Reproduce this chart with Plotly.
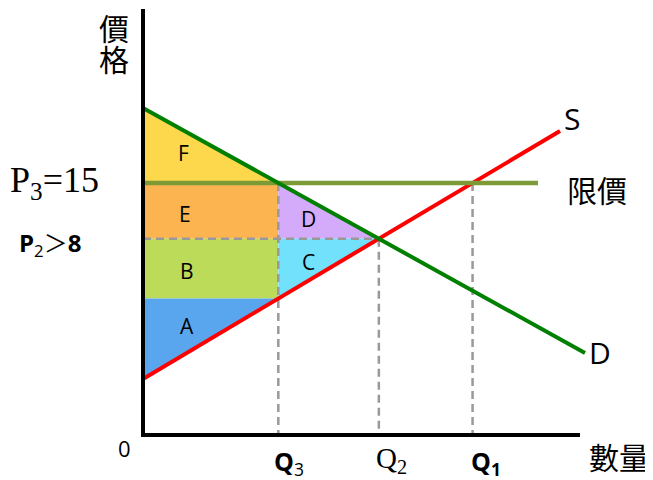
import plotly.graph_objects as go

# demand / supply lines (quantity, price)
demand_q = [0.0, 44.2]
demand_p = [32.7, 8.2]
supply_q = [0.0, 41.7]
supply_p = [5.6, 30.4]

# price control line (限價)
ceiling_p = 25.2
ceiling_q = [0.0, 39.5]

axis_x_end = 43.7
axis_y_end = 42.6

region_labels = ["F", "E", "D", "B", "C", "A"]
region_colors = ["#FDD84C", "#FBB450", "#D4AAFA", "#BBDB59", "#72E1FB", "#5AA6EE"]


def line_at(qs, ps, q):
    slope = (ps[1] - ps[0]) / (qs[1] - qs[0])
    return ps[0] + slope * (q - qs[0])


def q_at(qs, ps, p):
    slope = (ps[1] - ps[0]) / (qs[1] - qs[0])
    return qs[0] + (p - ps[0]) / slope


# key points from the curves
d_slope = (demand_p[1] - demand_p[0]) / (demand_q[1] - demand_q[0])
s_slope = (supply_p[1] - supply_p[0]) / (supply_q[1] - supply_q[0])
q2 = (supply_p[0] - demand_p[0]) / (d_slope - s_slope)
p2 = line_at(supply_q, supply_p, q2)
q3 = q_at(demand_q, demand_p, ceiling_p)
q1 = q_at(supply_q, supply_p, ceiling_p)
s_q3 = line_at(supply_q, supply_p, q3)

polys = {
    "F": ([0, 0, q3], [demand_p[0], ceiling_p, ceiling_p]),
    "E": ([0, q3, q3, 0], [p2, p2, ceiling_p, ceiling_p]),
    "D": ([q3, q3, q2], [ceiling_p, p2, p2]),
    "B": ([0, q3, q3, 0], [s_q3, s_q3, p2, p2]),
    "C": ([q3, q3, q2], [p2, s_q3, p2]),
    "A": ([0, 0, q3], [supply_p[0], s_q3, s_q3]),
}

fig = go.Figure()

for name, color in zip(region_labels, region_colors):
    xs, ys = polys[name]
    fig.add_trace(go.Scatter(x=xs, y=ys, fill="toself", fillcolor=color,
                             mode="lines", line=dict(width=0), hoverinfo="skip"))

dash = dict(color="#999999", width=2.5, dash="8px,5px")
fig.add_trace(go.Scatter(x=[0, q2], y=[p2, p2], mode="lines", line=dash))
fig.add_trace(go.Scatter(x=[q2, q2], y=[p2, 0], mode="lines", line=dash))
fig.add_trace(go.Scatter(x=[q3, q3], y=[ceiling_p, 0], mode="lines", line=dash))
fig.add_trace(go.Scatter(x=[q1, q1], y=[ceiling_p, 0], mode="lines", line=dash))

fig.add_trace(go.Scatter(x=supply_q, y=supply_p, mode="lines",
                         line=dict(color="#FF0000", width=4)))
fig.add_trace(go.Scatter(x=ceiling_q, y=[ceiling_p, ceiling_p], mode="lines",
                         line=dict(color="#7D9A36", width=4.5)))
fig.add_trace(go.Scatter(x=demand_q, y=demand_p, mode="lines",
                         line=dict(color="#008000", width=4)))

# axes
fig.add_trace(go.Scatter(x=[0, 0, axis_x_end], y=[axis_y_end, 0, 0], mode="lines",
                         line=dict(color="black", width=4)))

sans = "Open Sans"
cjk = "Noto Sans CJK TC"
serif = "Liberation Serif"

# plot area on screen (page has an 8px body margin)
PL, PR, PT, PB = 133, 653, 8, 445


def label(px, py, text, size, family):
    fig.add_annotation(x=(px - PL) / (PR - PL), y=(PB - py) / (PB - PT),
                       xref="paper", yref="paper", xanchor="center", yanchor="middle",
                       text=text, showarrow=False,
                       font=dict(size=size, family=family, color="black"))


for name, (px, py) in zip(region_labels, [(183, 153), (185, 214), (308, 219),
                                          (187, 271), (308, 262), (187, 326)]):
    label(px, py, name, 21, sans)

label(114, 27, "價", 30, cjk)
label(114, 58, "格", 30, cjk)
label(54, 182, "P<sub>3</sub>=15", 36, serif)
label(50, 243, "<b>P</b><sub>2</sub><span style='font-family:Noto Sans CJK TC'>＞</span><b>8</b>",
      24, sans)
label(572, 119, "S", 30, sans)
label(600, 352, "D", 30, sans)
label(597, 189, "限價", 30, cjk)
label(124, 448, "0", 22, sans)
label(289, 462, "<b>Q</b><sub>3</sub>", 25, sans)
label(391, 460, "Q<sub>2</sub>", 29, serif)
label(486, 462, "<b>Q</b><sub><b>1</b></sub>", 25, sans)
label(619, 456, "數量", 30, cjk)

fig.update_layout(
    width=645, height=472,
    margin=dict(l=PL - 8, r=653 - PR, t=PT - 8, b=472 - (PB - 8)),
    paper_bgcolor="white", plot_bgcolor="white",
    showlegend=False,
    xaxis=dict(range=[-1, 51], visible=False, fixedrange=True),
    yaxis=dict(range=[-1, 42.7], visible=False, fixedrange=True),
)

fig.write_html("out.html")
